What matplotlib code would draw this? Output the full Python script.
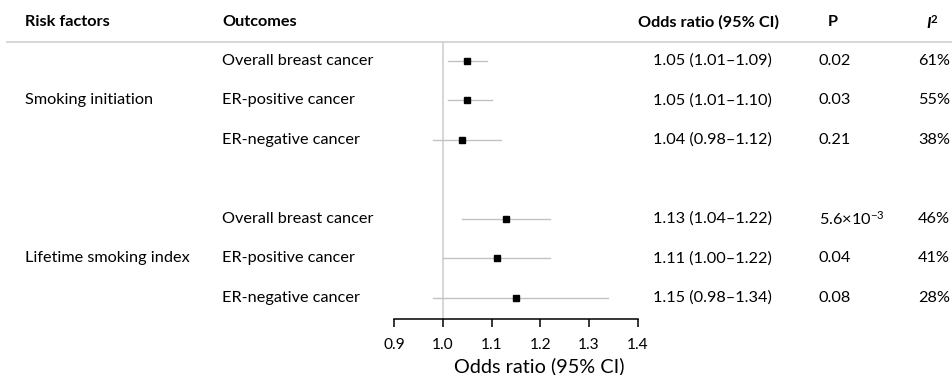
import matplotlib.pyplot as plt
import matplotlib as mpl

mpl.rcParams['font.family'] = ['Lato', 'DejaVu Sans']
mpl.rcParams['mathtext.fontset'] = 'custom'
mpl.rcParams['mathtext.rm'] = 'Lato'
mpl.rcParams['mathtext.it'] = 'Lato:italic'
mpl.rcParams['mathtext.bf'] = 'Lato:bold'
mpl.rcParams['mathtext.bfit'] = 'Lato:italic:bold'

# data
risk_factors = ["Smoking initiation", "Lifetime smoking index"]
outcomes = ["Overall breast cancer", "ER-positive cancer", "ER-negative cancer"] * 2
odds = [1.05, 1.05, 1.04, 1.13, 1.11, 1.15]
ci_low = [1.01, 1.01, 0.98, 1.04, 1.00, 0.98]
ci_high = [1.09, 1.10, 1.12, 1.22, 1.22, 1.34]
p_vals = ["0.02", "0.03", "0.21", "5.6×10$^{-3}$", "0.04", "0.08"]
i2_vals = ["61%", "55%", "38%", "46%", "41%", "28%"]
rows = [0, 1, 2, 4, 5, 6]
ticks = [0.9, 1.0, 1.1, 1.2, 1.3, 1.4]

W, H = 953, 375
fig = plt.figure(figsize=(W / 100, H / 100), dpi=100)

def fx(px):
    return px / W

FS = 11.7

# forest axes, placed by pixels
left, right, top, bottom = 394.3, 637.7, 42, 318.5
ax = fig.add_axes([fx(left), 1 - bottom / H, (right - left) / W, (bottom - top) / H])
ax.set_xlim(0.9, 1.4)
ax.set_ylim(6.53, -0.48)

ax.axvline(1.0, color="#d3d3d3", lw=1.3, zorder=1)
for r, o, lo, hi in zip(rows, odds, ci_low, ci_high):
    ax.plot([lo, hi], [r, r], color="#c2c2c2", lw=1.0, zorder=2)
    ax.plot(o, r, marker="s", ms=5, color="black", zorder=3)

for s in ["top", "left", "right"]:
    ax.spines[s].set_visible(False)
ax.spines["bottom"].set_linewidth(1.1)
ax.set_yticks([])
ax.set_xticks(ticks)
ax.set_xticklabels([f"{t:.1f}" for t in ticks], fontsize=FS - 0.5)
ax.tick_params(axis="x", length=6, width=1.1, pad=8)
ax.set_xlabel("Odds ratio (95% CI)", fontsize=14.3, va="center")
ax.xaxis.set_label_coords(0.594, -0.172)
ax.patch.set_alpha(0)

# header
hy = 1 - 22.5 / H
hdr = dict(fontsize=FS, fontweight="bold", va="center")
fig.text(fx(25), hy, "Risk factors", **hdr)
fig.text(fx(222), hy, "Outcomes", **hdr)
fig.text(fx(638), hy, "Odds ratio (95% CI)", **hdr)
fig.text(fx(828), hy, "P", **hdr)
fig.text(fx(926), hy, r"$\mathbfit{I}^{\mathbf{2}}$", fontsize=FS, va="center")
fig.add_artist(plt.Line2D([fx(7), 1], [1 - 41.7 / H] * 2, color="#d3d3d3", lw=1.3))

# table text rows, aligned with axes rows
trans = mpl.transforms.blended_transform_factory(fig.transFigure, ax.transData)
body = dict(fontsize=FS, va="center", transform=trans)
fig.text(fx(25), 1, risk_factors[0], **body)
fig.text(fx(25), 5, risk_factors[1], **body)
for r, oc, o, lo, hi, p, i2 in zip(rows, outcomes, odds, ci_low, ci_high, p_vals, i2_vals):
    fig.text(fx(222), r, oc, **body)
    fig.text(fx(653), r, f"{o:.2f} ({lo:.2f}–{hi:.2f})", **body)
    fig.text(fx(819), r, p, **body)
    fig.text(fx(918), r, i2, **body)

fig.savefig("out.png", dpi=100)
